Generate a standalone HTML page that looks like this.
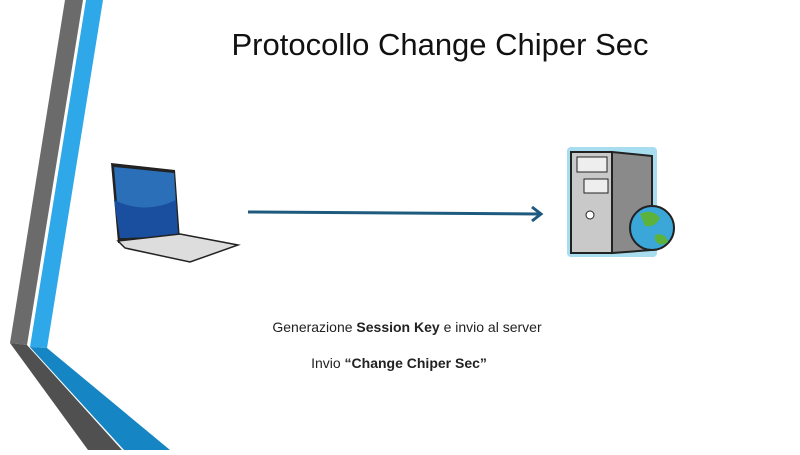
<!DOCTYPE html>
<html><head><style>
body{margin:0;width:800px;height:450px;overflow:hidden;background:#fff;font-family:"Liberation Sans",sans-serif}
</style></head><body>
<svg width="800" height="450" viewBox="0 0 800 450" xmlns="http://www.w3.org/2000/svg">
<polygon points="65,0 83,0 27,345 10,343" fill="#6b6b6b"/>
<polygon points="10,343 27,345 122,450 88,450" fill="#505050"/>
<polygon points="86,0 103,0 47,348 30,347" fill="#2ea8e8"/>
<polygon points="30,347 47,348 170,450 124,450" fill="#1585c4"/>
<text x="440" y="55" text-anchor="middle" font-size="31" font-family="Liberation Sans" fill="#111">Protocollo Change Chiper Sec</text>
<!-- laptop -->
<polygon points="111,163 175,170 180,240 118,243" fill="#222"/>
<polygon points="114,167 174,173 178,236 120,238" fill="#2a6fb8"/>
<path d="M114,200 Q145,215 176,200 L178,236 120,238Z" fill="#1a4fa0"/>
<polygon points="118,241 180,234 238,245 190,262 125,248" fill="#ddd" stroke="#222" stroke-width="1.5"/>
<!-- arrow -->
<line x1="248" y1="212" x2="540" y2="214" stroke="#1d5a7e" stroke-width="3"/>
<polyline points="532,207 541,214 532,221" fill="none" stroke="#1d5a7e" stroke-width="3"/>
<!-- server -->
<rect x="567" y="147" width="90" height="110" rx="4" fill="#a8dcef"/>
<polygon points="571,152 612,152 612,253 571,253" fill="#c9c9c9" stroke="#222" stroke-width="2"/>
<polygon points="612,152 652,156 652,250 612,253" fill="#8a8a8a" stroke="#222" stroke-width="2"/>
<rect x="577" y="157" width="30" height="15" fill="#eee" stroke="#222"/>
<rect x="584" y="179" width="24" height="14" fill="#eee" stroke="#222"/>
<circle cx="590" cy="215" r="4" fill="#fff" stroke="#222"/>
<circle cx="652" cy="228" r="22" fill="#3aa7d8" stroke="#222" stroke-width="2"/>
<path d="M640,214 Q652,208 660,218 Q655,228 645,226Z M655,235 Q665,232 668,242 Q660,248 655,240Z" fill="#5bb33c"/>
<text x="407" y="332" text-anchor="middle" font-size="14" fill="#222">Generazione <tspan font-weight="bold">Session Key</tspan> e invio al server</text>
<text x="399" y="368" text-anchor="middle" font-size="14" fill="#222">Invio <tspan font-weight="bold">“Change Chiper Sec”</tspan></text>
</svg>
</body></html>
